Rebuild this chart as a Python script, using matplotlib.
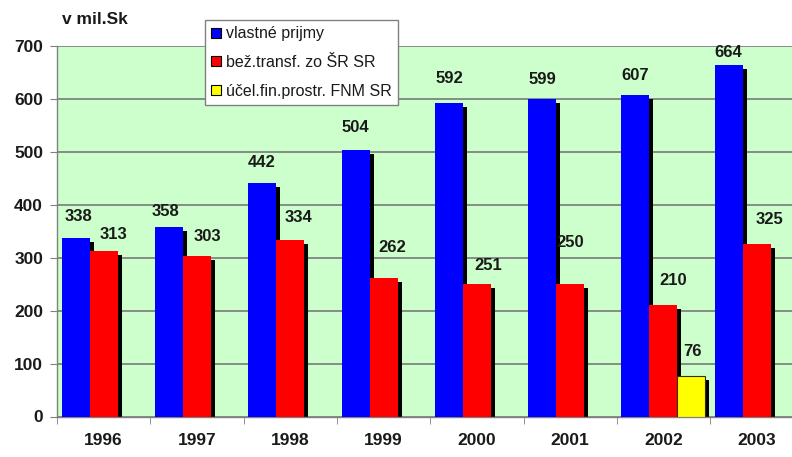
import numpy as np
import matplotlib.pyplot as plt
import matplotlib.transforms as mtransforms
from matplotlib.patches import Patch

years = ['1996', '1997', '1998', '1999', '2000', '2001', '2002', '2003']
vlastne = [338, 358, 442, 504, 592, 599, 607, 664]
bezne = [313, 303, 334, 262, 251, 250, 210, 325]
ucel = [0, 0, 0, 0, 0, 0, 76, 0]

series_names = ['vlastné prijmy', 'bež.transf. zo ŠR SR', 'účel.fin.prostr. FNM SR']
colors = ['#0000ff', '#ff0000', '#ffff00']

# label offsets in pixels (dx, dy) relative to bar top centre
off_blue = [(3, 21), (-3, 16), (-1, 20), (0, 22), (1, 25), (0, 20), (0, 20), (-1, 13)]
off_red = [(10, 16), (10, 20), (8, 22), (9, 30), (11, 18), (0, 42), (10, 25), (13, 25)]
off_yel = (1, 25)

plt.rcParams['font.family'] = ['Liberation Sans', 'DejaVu Sans']

fig = plt.figure(figsize=(7.92, 4.57), dpi=100)
ax = fig.add_axes([57 / 792, 40.5 / 457, 746.4 / 792, 370.5 / 457])
ax.set_facecolor('#ccffcc')

x = np.arange(len(years))
w = 0.30
shadow = ax.transData + mtransforms.ScaledTranslation(4 / 100, -4 / 100, fig.dpi_scale_trans)

groups = [(vlastne, -0.30, colors[0]), (bezne, 0.0, colors[1])]
for vals, dx, col in groups:
    ax.bar(x + dx, vals, w, color='black', transform=shadow, zorder=2)
for vals, dx, col in groups:
    ax.bar(x + dx, vals, w, color=col, zorder=3)

yi = [i for i, v in enumerate(ucel) if v > 0]
yv = [ucel[i] for i in yi]
ax.bar(np.array(yi) + 0.30, yv, w, color='black', transform=shadow, zorder=2)
ax.bar(np.array(yi) + 0.30, yv, w, color=colors[2], edgecolor='#333300', linewidth=0.8, zorder=3)

lab = dict(fontsize=12, fontweight='bold', color='#1a1a1a', ha='center', va='center',
           textcoords='offset pixels', zorder=5, annotation_clip=False)
for i in x:
    ax.annotate(str(vlastne[i]), (i - 0.30, vlastne[i]), xytext=off_blue[i], **lab)
    ax.annotate(str(bezne[i]), (i, bezne[i]), xytext=off_red[i], **lab)
for i, v in zip(yi, yv):
    ax.annotate(str(v), (i + 0.30, v), xytext=off_yel, **lab)

ax.set_xlim(-0.5, 7.5)
ax.set_ylim(0, 700)
ax.set_yticks(range(0, 701, 100))
ax.set_xticks(x)
ax.set_xticklabels(years)
ax.set_xticks(np.arange(-0.5, 7.6, 1), minor=True)
ax.tick_params(axis='x', which='major', length=0, pad=12, labelsize=12.5)
ax.tick_params(axis='x', which='minor', length=5, color='#808080', direction='out')
ax.tick_params(axis='y', length=5, color='#808080', direction='out', pad=5, labelsize=12.5)
for t in ax.get_xticklabels() + ax.get_yticklabels():
    t.set_fontweight('bold')
    t.set_color('#1a1a1a')

ax.grid(axis='y', color='#7a7a7a', linewidth=1.2, zorder=1)
ax.set_axisbelow(True)
for s in ['top', 'right']:
    ax.spines[s].set_visible(False)
for s in ['left', 'bottom']:
    ax.spines[s].set_color('#808080')
    ax.spines[s].set_linewidth(1.0)

fig.text(62 / 792, 1 - 20 / 457, 'v mil.Sk', fontsize=12.5, fontweight='bold',
         color='#1a1a1a', va='center', ha='left')

handles = [Patch(facecolor=c, edgecolor='black', linewidth=0.8) for c in colors]
leg = fig.legend(handles, series_names, loc='upper left',
                 bbox_to_anchor=(205 / 792, 1 - 20 / 457), fontsize=11.5,
                 frameon=True, fancybox=False, framealpha=1, edgecolor='#808080',
                 handlelength=0.6, handleheight=0.6, handletextpad=0.3,
                 labelspacing=0.85, borderpad=0.4, borderaxespad=0)
leg.get_frame().set_linewidth(1.0)
for t in leg.get_texts():
    t.set_color('#1a1a1a')

fig.savefig('out.png', dpi=100)
